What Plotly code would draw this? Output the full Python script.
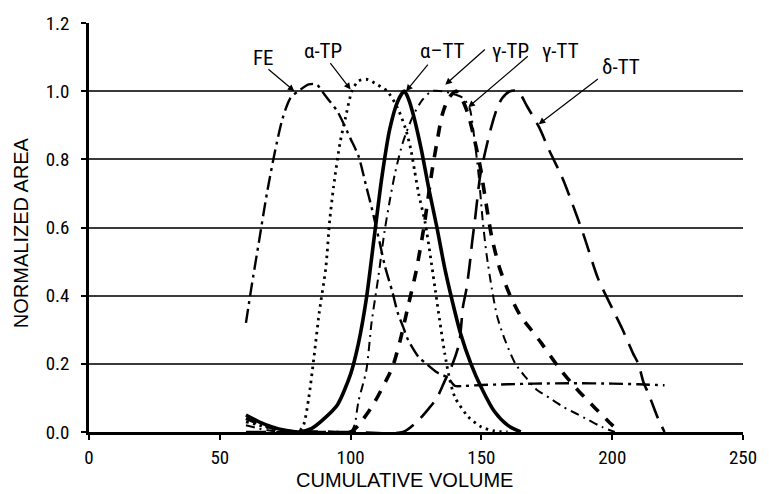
import plotly.graph_objects as go

# ---- data ----
fe_x = [60, 62, 65, 68, 71, 74, 77, 80, 84, 87, 90, 95, 100, 103, 106, 108, 111, 113, 116, 118, 120, 122, 126, 129, 133, 137, 140, 143, 150, 160, 170, 185, 200, 210, 220]
fe_y = [0.32, 0.42, 0.56, 0.70, 0.82, 0.92, 0.98, 1.00, 1.02, 1.02, 0.99, 0.94, 0.86, 0.81, 0.72, 0.66, 0.56, 0.49, 0.41, 0.35, 0.31, 0.27, 0.22, 0.20, 0.175, 0.16, 0.135, 0.135, 0.138, 0.14, 0.142, 0.143, 0.142, 0.14, 0.137]

atp_x = [60, 65, 70, 75, 80, 82, 84, 86, 88, 90.5, 92, 93.5, 96, 98, 100.5, 103, 106, 110, 114, 118, 121, 123, 124.5, 126, 128.6, 132.4, 134, 136, 138, 140, 145, 150, 155, 160]
atp_y = [0.03, 0.02, 0.01, 0.003, 0.0, 0.02, 0.10, 0.22, 0.35, 0.48, 0.62, 0.72, 0.85, 0.92, 1.00, 1.03, 1.035, 1.02, 1.00, 0.95, 0.89, 0.83, 0.765, 0.70, 0.61, 0.415, 0.33, 0.23, 0.15, 0.10, 0.044, 0.015, 0.003, 0.0]

att_x = [60, 65, 70, 75, 80, 85, 90, 95, 100, 103, 106, 109, 112, 115, 118, 120.5, 122, 124, 127, 130, 133, 136, 139, 142, 146, 150, 155, 160, 165]
att_y = [0.05, 0.03, 0.015, 0.005, 0.0, 0.01, 0.04, 0.08, 0.17, 0.26, 0.39, 0.57, 0.75, 0.89, 0.97, 1.00, 0.98, 0.93, 0.83, 0.71, 0.60, 0.48, 0.38, 0.29, 0.20, 0.13, 0.06, 0.02, 0.0]

gtp_x = [60, 65, 70, 75, 80, 90, 100, 103, 108.6, 113.5, 116, 119, 122, 125, 128, 131, 133, 135, 137.5, 140.5, 143, 145, 147, 149.5, 152, 154, 157, 161, 165, 169, 173, 179.5, 186, 193.5, 200, 203]
gtp_y = [0.04, 0.025, 0.012, 0.004, 0.0, 0.0, 0.0, 0.02, 0.08, 0.15, 0.19, 0.27, 0.37, 0.47, 0.60, 0.76, 0.85, 0.93, 0.98, 1.00, 0.97, 0.93, 0.87, 0.78, 0.66, 0.57, 0.48, 0.40, 0.34, 0.30, 0.26, 0.19, 0.13, 0.07, 0.02, 0.0]

gtt_x = [60, 65, 70, 80, 90, 100, 101.5, 103, 106, 108, 110.5, 113, 115, 117, 120, 124, 127.5, 131, 135, 140, 143, 145.5, 147, 149, 150.5, 152, 154, 156, 159, 163, 167, 171, 176, 181, 186, 191, 196, 201]
gtt_y = [0.02, 0.01, 0.003, 0.0, 0.0, 0.0, 0.02, 0.09, 0.18, 0.32, 0.45, 0.59, 0.68, 0.76, 0.85, 0.93, 0.975, 1.00, 1.00, 0.99, 0.98, 0.95, 0.88, 0.75, 0.62, 0.52, 0.42, 0.34, 0.27, 0.20, 0.16, 0.125, 0.10, 0.075, 0.055, 0.035, 0.015, 0.0]

dtt_x = [60, 80, 100, 120, 126, 130, 133, 136, 139, 141.5, 143, 144.3, 145.5, 146.5, 147.5, 149.5, 151.4, 153.6, 156, 158, 161, 164, 167.5, 172, 176, 180.7, 183.3, 189, 194.6, 200.2, 204, 208, 210, 212, 214, 217.5, 220]
dtt_y = [0.0, 0.0, 0.0, 0.0, 0.035, 0.07, 0.10, 0.15, 0.20, 0.26, 0.37, 0.42, 0.49, 0.56, 0.62, 0.75, 0.82, 0.89, 0.95, 0.98, 1.00, 1.00, 0.955, 0.895, 0.825, 0.75, 0.70, 0.58, 0.45, 0.36, 0.30, 0.23, 0.20, 0.145, 0.11, 0.04, 0.0]

x_ticks = [0, 50, 100, 150, 200, 250]
y_ticks = [0.0, 0.2, 0.4, 0.6, 0.8, 1.0, 1.2]

# label: (text, text_x, text_y, tail_x, tail_y, head_x, head_y)
labels = [
    ("FE", 66.8, 1.097, 68.0, 1.068, 78.5, 1.0),
    ("α-TP", 89.6, 1.117, 91.8, 1.087, 100.0, 1.005),
    ("α–TT", 135.2, 1.117, 130.0, 1.082, 121.2, 1.0),
    ("γ-TP", 161.2, 1.117, 151.9, 1.126, 136.2, 1.019),
    ("γ-TT", 180.3, 1.117, 168.3, 1.106, 145.0, 0.953),
    ("δ-TT", 203.2, 1.072, 195.1, 1.039, 171.9, 0.903),
]

NARROW = "Liberation Sans Narrow, Arial Narrow, Roboto Condensed, Liberation Sans, Arial, sans-serif"
REG = "Liberation Sans, Arial, sans-serif"

fig = go.Figure()

def add(x, y, dash, width, name):
    fig.add_trace(go.Scatter(x=x, y=y, mode="lines", name=name, hoverinfo="skip",
                             line=dict(color="black", width=width, dash=dash,
                                       shape="spline", smoothing=0.7)))

add(fe_x, fe_y, "14px,5px,3px,5px", 2.4, "FE")
add(atp_x, atp_y, "2.5px,4.5px", 2.8, "α-TP")
add(att_x, att_y, "solid", 3.6, "α-TT")
add(gtp_x, gtp_y, "11px,10px", 3.6, "γ-TP")
add(gtt_x, gtt_y, "9px,5px,2px,5px", 2.0, "γ-TT")
add(dtt_x, dtt_y, "20px,10px", 2.6, "δ-TT")

for (t, tx, ty, ax, ay, hx, hy) in labels:
    fig.add_annotation(x=tx, y=ty, text=t, showarrow=False, xref="x", yref="y",
                       font=dict(family=NARROW, size=21, color="black"))
    fig.add_annotation(x=hx, y=hy, ax=ax, ay=ay, axref="x", ayref="y", xref="x", yref="y",
                       text="", showarrow=True, arrowhead=2, arrowsize=1.1,
                       arrowwidth=1.2, arrowcolor="black", standoff=0, startstandoff=0)

# axis titles
fig.add_annotation(text="CUMULATIVE VOLUME", xref="paper", yref="paper",
                   x=0.482, y=-0.118, showarrow=False, yanchor="middle",
                   font=dict(family=REG, size=20, color="black"))
fig.add_annotation(text="NORMALIZED AREA", xref="paper", yref="paper",
                   x=-0.105, y=0.487, showarrow=False, textangle=-90,
                   xanchor="center", yanchor="middle",
                   font=dict(family=REG, size=20, color="black"))

fig.update_layout(
    width=769, height=494,
    margin=dict(l=89, r=15, t=20, b=62),
    paper_bgcolor="white", plot_bgcolor="white",
    showlegend=False,
    xaxis=dict(range=[0, 250], tickvals=x_ticks, ticktext=[str(v) for v in x_ticks],
               showgrid=False, zeroline=False,
               showline=True, linecolor="black", linewidth=2.5,
               ticks="outside", ticklen=5, tickwidth=2, tickcolor="black",
               ticklabelstandoff=1,
               tickfont=dict(family=NARROW, size=19, color="black")),
    yaxis=dict(range=[0, 1.2], tickvals=y_ticks, ticktext=[f"{v:.1f}" for v in y_ticks],
               showgrid=True, gridcolor="#3a3a3a", gridwidth=1.8, zeroline=False,
               showline=True, linecolor="black", linewidth=2.5,
               ticks="outside", ticklen=5, tickwidth=2, tickcolor="black",
               ticklabelstandoff=8,
               tickfont=dict(family=NARROW, size=19, color="black")),
)

fig.write_html("out.html", config={"displayModeBar": False},
               post_script="document.body.style.margin='0px';document.body.style.overflow='hidden';")
